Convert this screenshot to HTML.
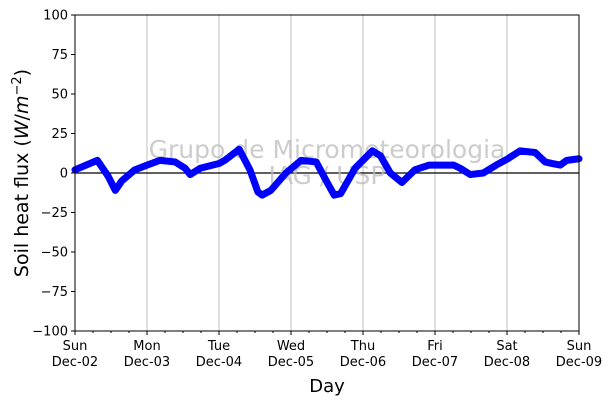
<!DOCTYPE html>
<html><head><meta charset="utf-8"><style>
body{margin:0;background:#fff;font-family:"Liberation Sans","DejaVu Sans",sans-serif}
svg text{font-family:"DejaVu Sans","Liberation Sans",sans-serif}
</style></head><body>
<svg id="c" width="613" height="405"></svg>
<script>
const dayLabels=["Sun","Mon","Tue","Wed","Thu","Fri","Sat","Sun"];
const dateLabels=["Dec-02","Dec-03","Dec-04","Dec-05","Dec-06","Dec-07","Dec-08","Dec-09"];
const yTicks=[100,75,50,25,0,-25,-50,-75,-100];
const tDays=[0,0.31,0.46,0.56,0.65,0.83,1,1.18,1.39,1.53,1.6,1.74,2,2.08,2.28,2.43,2.54,2.6,2.72,2.93,3.14,3.35,3.49,3.6,3.69,3.89,4.13,4.24,4.38,4.54,4.72,4.92,5.26,5.35,5.49,5.67,5.85,6.01,6.18,6.39,6.53,6.63,6.74,6.83,7];
const fluxVals=[2,8,-2,-11,-5,2,5,8,7,3,-1,3,6,8,15,2,-12,-14,-11,0,8,7,-5,-14,-13,3,14,11,0,-6,2,5,5,3,-1,0,5,9,14,13,7,6,5,8,9];
const L=75,R=579,T=15,B=331;
const xS=d=>L+(R-L)*d/7, yS=v=>T+(B-T)*(100-v)/200;
const svg=document.getElementById('c');const NS="http://www.w3.org/2000/svg";
function mk(t,a,p){const e=document.createElementNS(NS,t);for(const k in a)e.setAttribute(k,a[k]);(p||svg).appendChild(e);return e;}
for(let i=1;i<7;i++){const g=mk('line',{x1:xS(i),x2:xS(i),y1:T,y2:B,stroke:'#b0b0b0','stroke-width':0.8});

}
const zl=mk('line',{x1:L,x2:R,y1:yS(0),y2:yS(0),stroke:'#000','stroke-width':1.2});


const wm=mk('text',{x:327,y:158,'text-anchor':'middle','font-size':25,fill:'#bbb','fill-opacity':0.75});wm.textContent="Grupo de Micrometeorologia";


const wm2=mk('text',{x:327,y:184,'text-anchor':'middle','font-size':25,fill:'#bbb','fill-opacity':0.75});wm2.textContent="IAG / USP";


const pts=tDays.map((d,i)=>xS(d)+','+yS(fluxVals[i])).join(' ');
const ln=mk('polyline',{points:pts,fill:'none',stroke:'#0000ff','stroke-width':7,'stroke-linejoin':'round','stroke-linecap':'round'});


const fr=mk('rect',{x:L,y:T,width:R-L,height:B-T,fill:'none',stroke:'#000','stroke-width':1});


yTicks.forEach(v=>{mk('line',{x1:L-4,x2:L,y1:yS(v),y2:yS(v),stroke:'#000'});
const t=mk('text',{x:L-7,y:yS(v)+4.5,'text-anchor':'end','font-size':13});t.textContent=v<0?'\u2212'+(-v):v;

});
for(let i=0;i<=7;i++){mk('line',{x1:xS(i),x2:xS(i),y1:B,y2:B+4,stroke:'#000'});
for(let h=1;h<4&&i<7;h++)mk('line',{x1:xS(i+h/4),x2:xS(i+h/4),y1:B,y2:B+2,stroke:'#000'});
const t=mk('text',{x:xS(i),y:B+19,'text-anchor':'middle','font-size':13});t.textContent=dayLabels[i];


const t2=mk('text',{x:xS(i),y:B+35,'text-anchor':'middle','font-size':13});t2.textContent=dateLabels[i];

}
const xt=mk('text',{x:(L+R)/2,y:392,'text-anchor':'middle','font-size':18});xt.textContent="Day";


const yt=mk('text',{x:0,y:0,'text-anchor':'middle','font-size':19,transform:'translate(28,173) rotate(-90)'});
yt.innerHTML='Soil heat flux (<tspan font-style="italic">W</tspan>/<tspan font-style="italic">m</tspan><tspan dy="-7" font-size="13">\u22122</tspan><tspan dy="7">)</tspan>';


</script>
</body></html>
